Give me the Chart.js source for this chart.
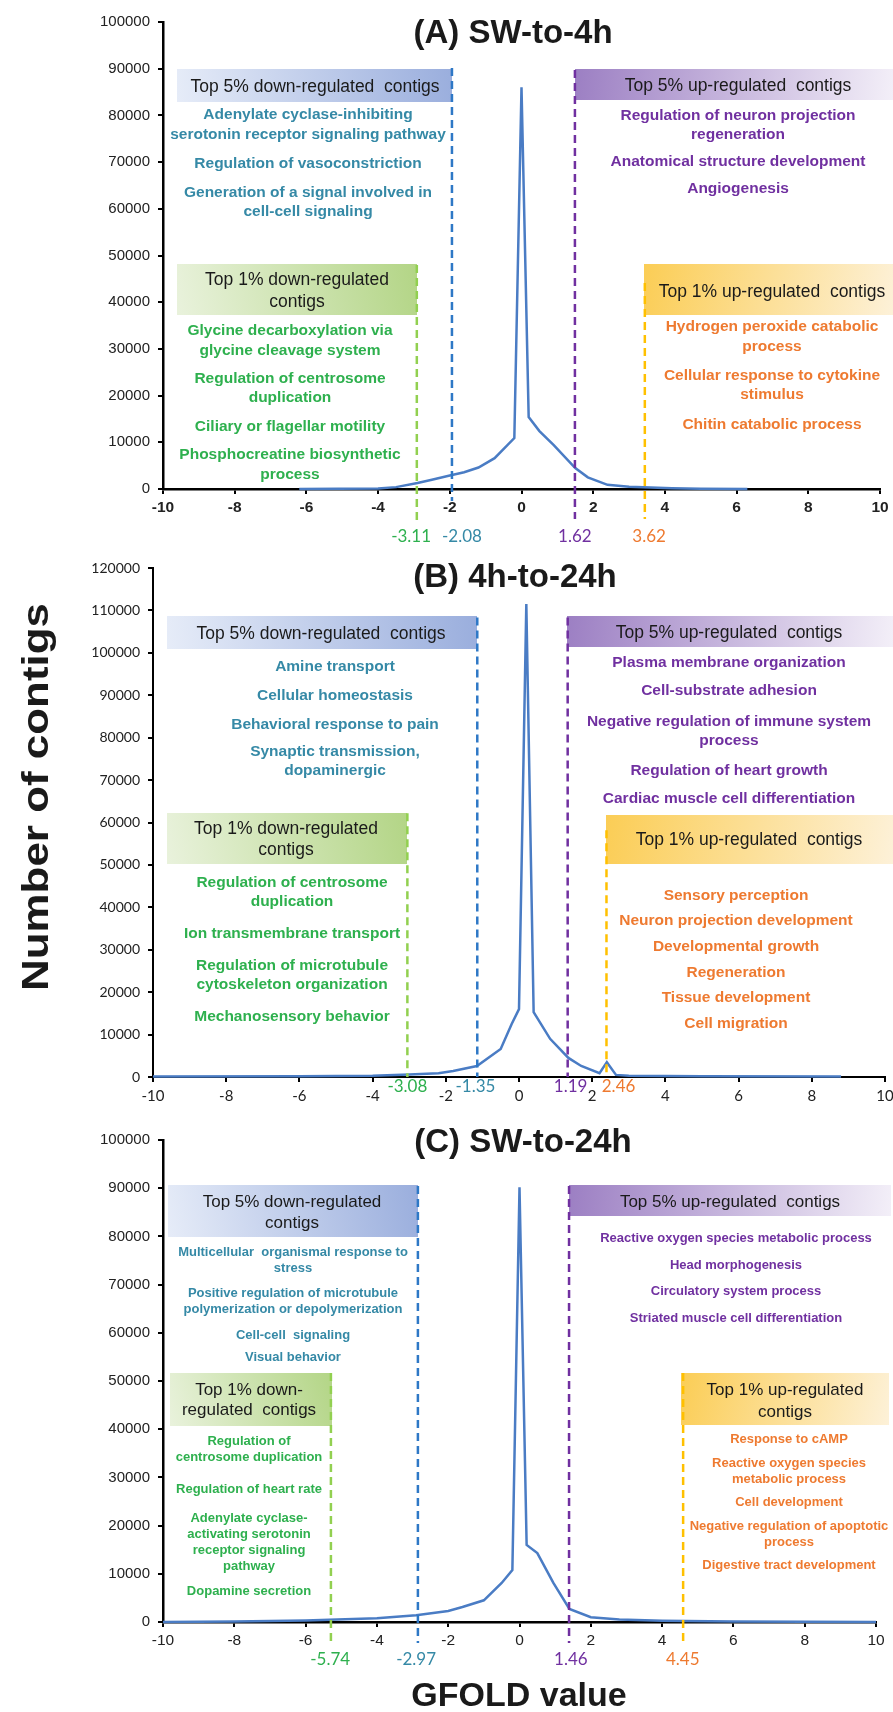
<!DOCTYPE html>
<html>
<head>
<meta charset="utf-8">
<script src="https://cdn.jsdelivr.net/npm/chart.js@4.4.1/dist/chart.umd.min.js"></script>
<style>
  body { margin: 0; background: #fff; }
  #wrap { position: relative; width: 893px; height: 1712px; background: #fff; }
  #wrap canvas { position: absolute; left: 0; top: 0; }
</style>
</head>
<body>
<div id="wrap">
  <canvas id="chartA" width="893" height="1712"></canvas>
  <canvas id="chartB" width="893" height="1712"></canvas>
  <canvas id="chartC" width="893" height="1712"></canvas>
</div>
<script>
// ---- data ----
const xA = [-6.2, -4, -3.5, -2.9, -2.5, -2, -1.6, -1.2, -0.75, -0.2, 0, 0.2, 0.5, 0.9, 1.5, 1.85, 2.4, 3, 3.6, 4.2, 5, 6.3];
const yA = [0, 100, 400, 1300, 2000, 2900, 3600, 4600, 6600, 10900, 86000, 15400, 12400, 9400, 4500, 2500, 900, 500, 300, 150, 80, 0];

const xB = [-10, -6, -4, -3, -2.2, -1.8, -1.15, -0.5, -0.2, 0, 0.2, 0.4, 0.85, 1.35, 1.7, 2.2, 2.4, 2.65, 3, 5, 8.8];
const yB = [100, 150, 300, 600, 900, 1400, 2600, 6600, 12500, 16000, 111500, 15300, 9000, 4500, 2600, 900, 3500, 500, 300, 200, 100];

const xC = [-10, -8, -6, -4, -2.9, -2, -1.6, -1, -0.5, -0.2, 0, 0.2, 0.5, 0.95, 1.4, 2, 2.8, 4, 6, 8, 10];
const yC = [0, 100, 300, 800, 1400, 2300, 3100, 4500, 8100, 10800, 90200, 16000, 14300, 8100, 2700, 1000, 500, 250, 100, 50, 0];

// cutoffs: order = 1% down, 5% down, 5% up, 1% up
const cutKeys = ["green", "teal", "purple", "orange"];
const cutLabelsA = ["-3.11", "-2.08", "1.62", "3.62"];
const cutLineA = [-2.92, -1.94, 1.49, 3.44];
const cutTopA = [47960, 90150, 89700, 44100];
const cutLabelsB = ["-3.08", "-1.35", "1.19", "2.46"];
const cutLineB = [-3.05, -1.14, 1.33, 2.39];
const cutTopB = [62180, 108340, 108340, 58170];
const cutLabelsC = ["-5.74", "-2.97", "1.46", "4.45"];
const cutLineC = [-5.29, -2.85, 1.39, 4.59];
const cutTopC = [51660, 90460, 90460, 51660];

const titles = ["(A) SW-to-4h", "(B) 4h-to-24h", "(C) SW-to-24h"];

// GO terms
const hdrDown5 = "Top 5% down-regulated  contigs";
const hdrUp5 = "Top 5% up-regulated  contigs";
const hdrUp1 = "Top 1% up-regulated  contigs";

const down5A = ["Adenylate cyclase-inhibiting", "serotonin receptor signaling pathway", "Regulation of vasoconstriction", "Generation of a signal involved in", "cell-cell signaling"];
const up5A = ["Regulation of neuron projection", "regeneration", "Anatomical structure development", "Angiogenesis"];
const down1A = ["Glycine decarboxylation via", "glycine cleavage system", "Regulation of centrosome", "duplication", "Ciliary or flagellar motility", "Phosphocreatine biosynthetic", "process"];
const up1A = ["Hydrogen peroxide catabolic", "process", "Cellular response to cytokine", "stimulus", "Chitin catabolic process"];

const down5B = ["Amine transport", "Cellular homeostasis", "Behavioral response to pain", "Synaptic transmission,", "dopaminergic"];
const up5B = ["Plasma membrane organization", "Cell-substrate adhesion", "Negative regulation of immune system", "process", "Regulation of heart growth", "Cardiac muscle cell differentiation"];
const down1B = ["Regulation of centrosome", "duplication", "Ion transmembrane transport", "Regulation of microtubule", "cytoskeleton organization", "Mechanosensory behavior"];
const up1B = ["Sensory perception", "Neuron projection development", "Developmental growth", "Regeneration", "Tissue development", "Cell migration"];

const down5C = ["Multicellular  organismal response to", "stress", "Positive regulation of microtubule", "polymerization or depolymerization", "Cell-cell  signaling", "Visual behavior"];
const up5C = ["Reactive oxygen species metabolic process", "Head morphogenesis", "Circulatory system process", "Striated muscle cell differentiation"];
const down1C = ["Regulation of", "centrosome duplication", "Regulation of heart rate", "Adenylate cyclase-", "activating serotonin", "receptor signaling", "pathway", "Dopamine secretion"];
const up1C = ["Response to cAMP", "Reactive oxygen species", "metabolic process", "Cell development", "Negative regulation of apoptotic", "process", "Digestive tract development"];

// ---- styles ----
const ARIAL = '"Liberation Sans", Arial, sans-serif';
const CALI = 'Lato, "Open Sans", sans-serif';
const TEXT_COL = { teal: "#3589a6", purple: "#7030a0", green: "#2eb04e", orange: "#ee7a30" };
const LINE_COL = { teal: "#2e78c6", purple: "#7030a0", green: "#92d050", orange: "#ffc000" };
const CURVE = "#4a7cc4";

function boxFill(ctx, b) {
  const [x0, y0, x1, y1, kind] = b;
  let g;
  if (kind === "blue") {
    g = ctx.createLinearGradient(x0, y1, x1, y0);
    g.addColorStop(0, "#e6ecf8"); g.addColorStop(1, "#9aaedd");
  } else if (kind === "purple") {
    g = ctx.createLinearGradient(x0, y0, x1, y1);
    g.addColorStop(0, "#9c7fc3"); g.addColorStop(1, "#f3eff8");
  } else if (kind === "green") {
    g = ctx.createLinearGradient(x0, y1, x1, y0);
    g.addColorStop(0, "#e9f2dc"); g.addColorStop(1, "#b3d586");
  } else {
    g = ctx.createLinearGradient(x0, y0, x1, y1);
    g.addColorStop(0, "#fbcd55"); g.addColorStop(1, "#fdf1d8");
  }
  return g;
}

function block(lines, ys, x, font, color) {
  return lines.map((t, i) => ({ text: t, x: x, y: ys[i], font: font, color: color }));
}

function cuts(labels, lines, tops, labelX, labelY, below) {
  return labels.map((l, i) => ({
    label: l, pos: lines[i], top: tops[i], labelX: labelX[i], labelY: labelY,
    below: below[i], key: cutKeys[i]
  }));
}

// ---- panel layouts (page pixels) ----
const hdr = (s) => "normal " + s + "px " + ARIAL;
const bold = (s) => "bold " + s + "px " + ARIAL;
const BLACK = "#1a1a1a";

const panelA = {
  title: [titles[0], 513, 34],
  boxes: [[177, 69, 452, 102, "blue"], [575, 69, 893, 100, "purple"], [177, 264, 417, 315, "green"], [644, 264, 893, 315, "yellow"]],
  texts: [].concat(
    block([hdrDown5], [87], 315, hdr(17.5), BLACK),
    block([hdrUp5], [86], 738, hdr(17.5), BLACK),
    block(["Top 1% down-regulated", "contigs"], [280, 302], 297, hdr(17.5), BLACK),
    block([hdrUp1], [292], 772, hdr(17.5), BLACK),
    block(down5A, [115, 135, 164, 193, 212], 308, bold(15.5), TEXT_COL.teal),
    block(up5A, [116, 135, 162, 189], 738, bold(15.5), TEXT_COL.purple),
    block(down1A, [331, 351, 379, 398, 427, 455, 475], 290, bold(15.5), TEXT_COL.green),
    block(up1A, [327, 347, 376, 395, 425], 772, bold(15.5), TEXT_COL.orange)
  ),
  cuts: cuts(cutLabelsA, cutLineA, cutTopA, [-3.08, -1.66, 1.49, 3.56], 537, [36, 12, 30, 30])
};

const panelB = {
  title: [titles[1], 515, 578],
  boxes: [[167, 616, 477, 649, "blue"], [567, 616, 893, 647, "purple"], [167, 813, 407, 864, "green"], [606, 815, 893, 864, "yellow"]],
  texts: [].concat(
    block([hdrDown5], [634], 321, hdr(17.5), BLACK),
    block([hdrUp5], [633], 729, hdr(17.5), BLACK),
    block(["Top 1% down-regulated", "contigs"], [829, 850], 286, hdr(17.5), BLACK),
    block([hdrUp1], [840], 749, hdr(17.5), BLACK),
    block(down5B, [667, 696, 725, 752, 771], 335, bold(15.5), TEXT_COL.teal),
    block(up5B, [663, 691, 722, 741, 771, 799], 729, bold(15.5), TEXT_COL.purple),
    block(down1B, [883, 902, 934, 966, 985, 1017], 292, bold(15.5), TEXT_COL.green),
    block(up1B, [896, 921, 947, 973, 998, 1024], 736, bold(15.5), TEXT_COL.orange)
  ),
  cuts: cuts(cutLabelsB, cutLineB, cutTopB, [-3.05, -1.19, 1.41, 2.72], 1087, [0, 0, 0, 0]),
  yTitle: ["Number of contigs", 38, 797]
};

const panelC = {
  title: [titles[2], 523, 1143],
  boxes: [[168, 1185, 418, 1237, "blue"], [569, 1185, 891, 1216, "purple"], [170, 1373, 332, 1426, "green"], [681, 1373, 889, 1425, "yellow"]],
  texts: [].concat(
    block(["Top 5% down-regulated", "contigs"], [1202, 1223], 292, hdr(17), BLACK),
    block([hdrUp5], [1202], 730, hdr(17), BLACK),
    block(["Top 1% down-", "regulated  contigs"], [1390, 1410], 249, hdr(17), BLACK),
    block(["Top 1% up-regulated", "contigs"], [1390, 1412], 785, hdr(17), BLACK),
    block(down5C, [1252, 1268, 1293, 1309, 1335, 1357], 293, bold(13), TEXT_COL.teal),
    block(up5C, [1238, 1265, 1291, 1318], 736, bold(13), TEXT_COL.purple),
    block(down1C, [1441, 1457, 1489, 1518, 1534, 1550, 1566, 1591], 249, bold(13), TEXT_COL.green),
    block(up1C, [1439, 1463, 1479, 1502, 1526, 1542, 1565], 789, bold(13), TEXT_COL.orange)
  ),
  cuts: cuts(cutLabelsC, cutLineC, cutTopC, [-5.31, -2.9, 1.44, 4.58], 1660, [21, 21, 21, 21]),
  xTitle: ["GFOLD value", 519, 1697]
};

// ---- drawing plugin for boxes, cutoffs and labels ----
const decor = {
  id: "decor",
  beforeDatasetsDraw(chart, args, p) {
    const ctx = chart.ctx;
    ctx.save();
    p.boxes.forEach(b => {
      ctx.fillStyle = boxFill(ctx, b);
      ctx.fillRect(b[0], b[1], b[2] - b[0], b[3] - b[1]);
    });
    ctx.restore();
  },
  afterDatasetsDraw(chart, args, p) {
    const ctx = chart.ctx;
    const xs = chart.scales.x, ys = chart.scales.y;
    ctx.save();
    ctx.textAlign = "center";
    ctx.textBaseline = "middle";

    p.cuts.forEach(c => {
      const px = xs.getPixelForValue(c.pos);
      ctx.strokeStyle = LINE_COL[c.key];
      ctx.lineWidth = 2.5;
      ctx.setLineDash([8, 5]);
      ctx.beginPath();
      ctx.moveTo(px, ys.getPixelForValue(c.top));
      ctx.lineTo(px, ys.bottom + c.below);
      ctx.stroke();
      ctx.setLineDash([]);
      ctx.font = "17px " + CALI;
      ctx.fillStyle = TEXT_COL[c.key];
      ctx.fillText(c.label, xs.getPixelForValue(c.labelX), c.labelY);
    });

    p.texts.forEach(t => {
      ctx.font = t.font;
      ctx.fillStyle = t.color;
      ctx.fillText(t.text, t.x, t.y);
    });

    ctx.font = bold(33);
    ctx.fillStyle = "#1a1a1a";
    ctx.fillText(p.title[0], p.title[1], p.title[2]);

    if (p.xTitle) {
      ctx.font = bold(34);
      ctx.fillText(p.xTitle[0], p.xTitle[1], p.xTitle[2]);
    }
    if (p.yTitle) {
      // the axis title is drawn stretched along its length, as in the figure
      ctx.translate(p.yTitle[1], p.yTitle[2]);
      ctx.rotate(-Math.PI / 2);
      ctx.scale(1.22, 1);
      ctx.font = bold(36);
      ctx.fillText(p.yTitle[0], 0, 0);
    }
    ctx.restore();
  }
};

const X_AXIS_H = 40;

function makeChart(id, xs, ys, yMax, area, tickFonts, panel) {
  const pts = xs.map((x, i) => ({ x: x, y: ys[i] }));
  return new Chart(document.getElementById(id), {
    type: "line",
    data: {
      datasets: [{
        data: pts,
        borderColor: CURVE,
        borderWidth: 2.5,
        pointRadius: 0,
        tension: 0,
        fill: false,
        clip: false
      }]
    },
    options: {
      responsive: false,
      animation: false,
      events: [],
      layout: {
        padding: { left: 0, right: 893 - area.right, top: area.top, bottom: 1712 - area.bottom - X_AXIS_H }
      },
      plugins: { legend: { display: false }, tooltip: { enabled: false }, decor: panel },
      scales: {
        x: {
          type: "linear", min: -10, max: 10,
          ticks: { stepSize: 2, autoSkip: false, maxRotation: 0, padding: tickFonts.xPad,
                   color: "#222", font: tickFonts.x, callback: v => String(v) },
          grid: { drawOnChartArea: false, drawTicks: true, tickLength: 5, color: "#000", lineWidth: 2 },
          border: { display: true, color: "#000", width: area.axisW },
          afterFit: s => { s.height = X_AXIS_H; s.paddingLeft = 0; s.paddingRight = 0; }
        },
        y: {
          min: 0, max: yMax,
          ticks: { stepSize: 10000, padding: 8, color: "#222", font: tickFonts.y, callback: v => String(v) },
          grid: { drawOnChartArea: false, drawTicks: true, tickLength: 5, color: "#000", lineWidth: 2 },
          border: { display: true, color: "#000", width: area.axisW },
          afterFit: s => { s.width = area.left; s.paddingTop = 0; s.paddingBottom = 0; }
        }
      }
    },
    plugins: [decor]
  });
}

makeChart("chartA", xA, yA, 100000,
  { left: 163, right: 880, top: 22, bottom: 489, axisW: 2.5 },
  { x: { family: ARIAL, size: 15.5, weight: "bold" }, y: { family: ARIAL, size: 15 }, xPad: 4 },
  panelA);

makeChart("chartB", xB, yB, 120000,
  { left: 153, right: 885, top: 568, bottom: 1077, axisW: 2 },
  { x: { family: CALI, size: 15 }, y: { family: CALI, size: 14 }, xPad: 5 },
  panelB);

makeChart("chartC", xC, yC, 100000,
  { left: 163, right: 876, top: 1140, bottom: 1622, axisW: 2.5 },
  { x: { family: ARIAL, size: 15.5 }, y: { family: ARIAL, size: 15 }, xPad: 4 },
  panelC);
</script>
</body>
</html>
